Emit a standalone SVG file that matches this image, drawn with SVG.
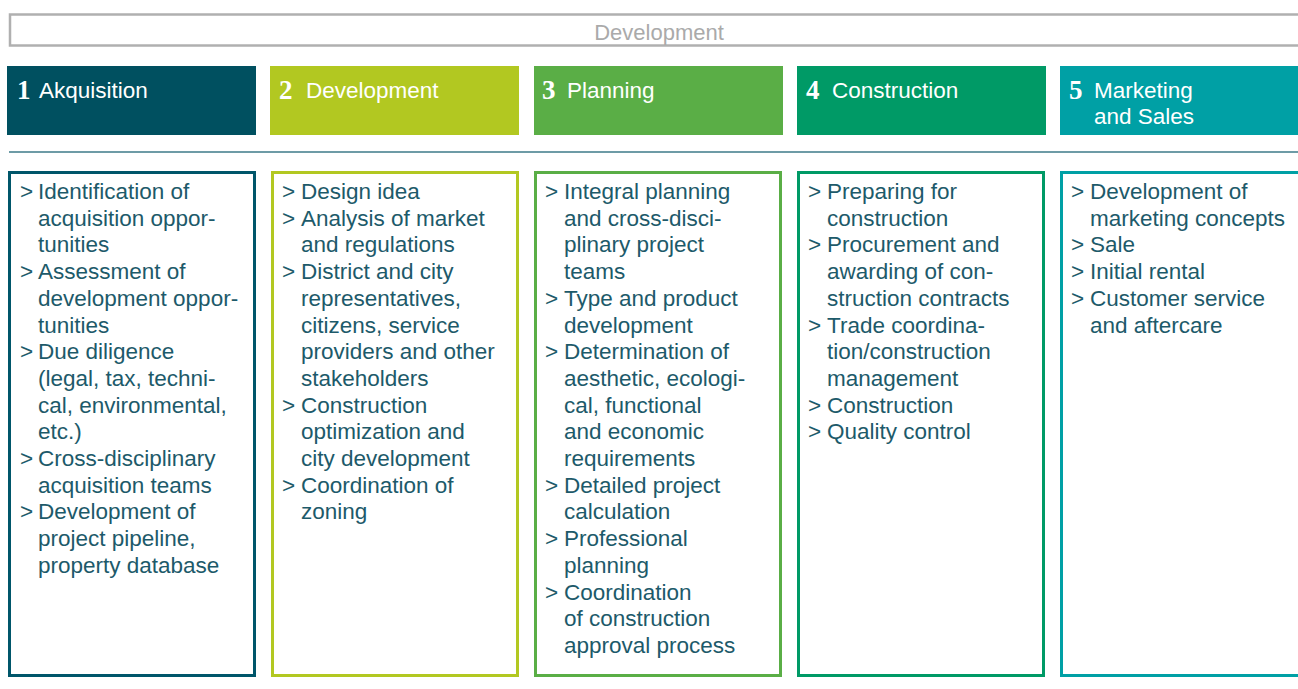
<svg xmlns="http://www.w3.org/2000/svg" width="1298" height="689" viewBox="0 0 1298 689">
<style>
.t{font-family:"Liberation Sans",Arial,sans-serif;font-size:22.5px;fill:#1d5a6a}
.h{font-family:"Liberation Sans",Arial,sans-serif;font-size:22.5px;fill:#ffffff}
.n{font-family:"Liberation Serif","Times New Roman",serif;font-size:27px;font-weight:bold;fill:#ffffff}
.box{fill:#ffffff;stroke-width:3}
</style>
<rect width="1298" height="689" fill="#ffffff"/>
<g id="top">
<rect x="10" y="14.5" width="1300" height="31" fill="none" stroke="#b0b0b0" stroke-width="2.5"/>
<text x="659" y="40" text-anchor="middle" style="font-family:'Liberation Sans',Arial,sans-serif;font-size:22px;fill:#aaaaaa">Development</text>
</g>
<g id="divider">
<line x1="9" y1="152" x2="1298" y2="152" stroke="#3d7a88" stroke-width="1.5"/>
</g>
<g id="h1">
<rect x="7" y="66" width="249" height="69" fill="#005060"/>
<text x="17" y="99" class="n">1</text><text x="39" y="98" class="h">Akquisition</text>
</g>
<g id="h2">
<rect x="270" y="66" width="249" height="69" fill="#b2c821"/>
<text x="279" y="99" class="n">2</text><text x="306" y="98" class="h">Development</text>
</g>
<g id="h3">
<rect x="534" y="66" width="249" height="69" fill="#5aae46"/>
<text x="542" y="99" class="n">3</text><text x="567" y="98" class="h">Planning</text>
</g>
<g id="h4">
<rect x="797" y="66" width="249" height="69" fill="#009a66"/>
<text x="806" y="99" class="n">4</text><text x="832" y="98" class="h">Construction</text>
</g>
<g id="h5">
<rect x="1060" y="66" width="260" height="69" fill="#00a0a5"/>
<text x="1069" y="99" class="n">5</text><text x="1094" y="98" class="h">Marketing</text><text x="1094" y="124" class="h">and Sales</text>
</g>
<g id="c1">
<rect x="9.5" y="172.5" width="245" height="503" class="box" stroke="#00566a"/>
<text class="t">
<tspan x="20" y="199">&gt;</tspan><tspan x="38" y="199">Identification of</tspan>
<tspan x="38" y="225.7">acquisition oppor-</tspan>
<tspan x="38" y="252.4">tunities</tspan>
<tspan x="20" y="279.1">&gt;</tspan><tspan x="38" y="279.1">Assessment of</tspan>
<tspan x="38" y="305.8">development oppor-</tspan>
<tspan x="38" y="332.5">tunities</tspan>
<tspan x="20" y="359.2">&gt;</tspan><tspan x="38" y="359.2">Due diligence</tspan>
<tspan x="38" y="385.9">(legal, tax, techni-</tspan>
<tspan x="38" y="412.6">cal, environmental,</tspan>
<tspan x="38" y="439.3">etc.)</tspan>
<tspan x="20" y="466">&gt;</tspan><tspan x="38" y="466">Cross-disciplinary</tspan>
<tspan x="38" y="492.7">acquisition teams</tspan>
<tspan x="20" y="519.4">&gt;</tspan><tspan x="38" y="519.4">Development of</tspan>
<tspan x="38" y="546.1">project pipeline,</tspan>
<tspan x="38" y="572.8">property database</tspan>
</text>
</g>
<g id="c2">
<rect x="272.5" y="172.5" width="245" height="503" class="box" stroke="#b2c821"/>
<text class="t">
<tspan x="282" y="199">&gt;</tspan><tspan x="301" y="199">Design idea</tspan>
<tspan x="282" y="225.7">&gt;</tspan><tspan x="301" y="225.7">Analysis of market</tspan>
<tspan x="301" y="252.4">and regulations</tspan>
<tspan x="282" y="279.1">&gt;</tspan><tspan x="301" y="279.1">District and city</tspan>
<tspan x="301" y="305.8">representatives,</tspan>
<tspan x="301" y="332.5">citizens, service</tspan>
<tspan x="301" y="359.2">providers and other</tspan>
<tspan x="301" y="385.9">stakeholders</tspan>
<tspan x="282" y="412.6">&gt;</tspan><tspan x="301" y="412.6">Construction</tspan>
<tspan x="301" y="439.3">optimization and</tspan>
<tspan x="301" y="466">city development</tspan>
<tspan x="282" y="492.7">&gt;</tspan><tspan x="301" y="492.7">Coordination of</tspan>
<tspan x="301" y="519.4">zoning</tspan>
</text>
</g>
<g id="c3">
<rect x="535.5" y="172.5" width="245" height="503" class="box" stroke="#5aae46"/>
<text class="t">
<tspan x="545" y="199">&gt;</tspan><tspan x="564" y="199">Integral planning</tspan>
<tspan x="564" y="225.7">and cross-disci-</tspan>
<tspan x="564" y="252.4">plinary project</tspan>
<tspan x="564" y="279.1">teams</tspan>
<tspan x="545" y="305.8">&gt;</tspan><tspan x="564" y="305.8">Type and product</tspan>
<tspan x="564" y="332.5">development</tspan>
<tspan x="545" y="359.2">&gt;</tspan><tspan x="564" y="359.2">Determination of</tspan>
<tspan x="564" y="385.9">aesthetic, ecologi-</tspan>
<tspan x="564" y="412.6">cal, functional</tspan>
<tspan x="564" y="439.3">and economic</tspan>
<tspan x="564" y="466">requirements</tspan>
<tspan x="545" y="492.7">&gt;</tspan><tspan x="564" y="492.7">Detailed project</tspan>
<tspan x="564" y="519.4">calculation</tspan>
<tspan x="545" y="546.1">&gt;</tspan><tspan x="564" y="546.1">Professional</tspan>
<tspan x="564" y="572.8">planning</tspan>
<tspan x="545" y="599.5">&gt;</tspan><tspan x="564" y="599.5">Coordination</tspan>
<tspan x="564" y="626.2">of construction</tspan>
<tspan x="564" y="652.9">approval process</tspan>
</text>
</g>
<g id="c4">
<rect x="798.5" y="172.5" width="245" height="503" class="box" stroke="#009a66"/>
<text class="t">
<tspan x="808" y="199">&gt;</tspan><tspan x="827" y="199">Preparing for</tspan>
<tspan x="827" y="225.7">construction</tspan>
<tspan x="808" y="252.4">&gt;</tspan><tspan x="827" y="252.4">Procurement and</tspan>
<tspan x="827" y="279.1">awarding of con-</tspan>
<tspan x="827" y="305.8">struction contracts</tspan>
<tspan x="808" y="332.5">&gt;</tspan><tspan x="827" y="332.5">Trade coordina-</tspan>
<tspan x="827" y="359.2">tion/construction</tspan>
<tspan x="827" y="385.9">management</tspan>
<tspan x="808" y="412.6">&gt;</tspan><tspan x="827" y="412.6">Construction</tspan>
<tspan x="808" y="439.3">&gt;</tspan><tspan x="827" y="439.3">Quality control</tspan>
</text>
</g>
<g id="c5">
<rect x="1061.5" y="172.5" width="300" height="503" class="box" stroke="#00a0a5"/>
<text class="t">
<tspan x="1071" y="199">&gt;</tspan><tspan x="1090" y="199">Development of</tspan>
<tspan x="1090" y="225.7">marketing concepts</tspan>
<tspan x="1071" y="252.4">&gt;</tspan><tspan x="1090" y="252.4">Sale</tspan>
<tspan x="1071" y="279.1">&gt;</tspan><tspan x="1090" y="279.1">Initial rental</tspan>
<tspan x="1071" y="305.8">&gt;</tspan><tspan x="1090" y="305.8">Customer service</tspan>
<tspan x="1090" y="332.5">and aftercare</tspan>
</text>
</g>
</svg>
